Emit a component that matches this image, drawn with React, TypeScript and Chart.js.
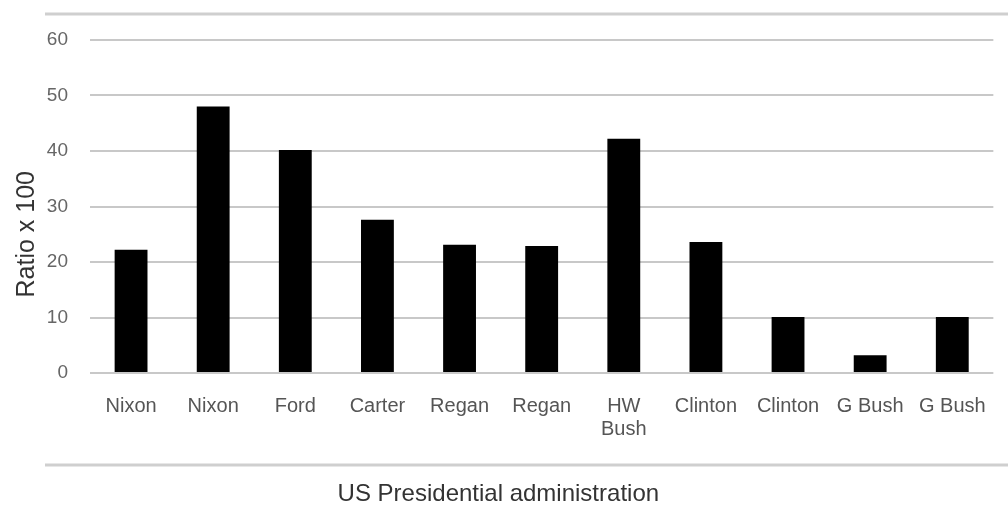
import React, { useEffect, useRef } from "react";
import { Chart, registerables } from "chart.js";

Chart.register(...registerables);

const categories: (string | string[])[] = [
  "Nixon",
  "Nixon",
  "Ford",
  "Carter",
  "Regan",
  "Regan",
  ["HW", "Bush"],
  "Clinton",
  "Clinton",
  "G Bush",
  "G Bush",
];
const ratioValues = [22.2, 48, 40.2, 27.6, 23.1, 22.9, 42.2, 23.6, 10.1, 3.2, 10.1];
const yTicks = { min: 0, max: 60, step: 10 };
const xTitle = "US Presidential administration";
const yTitle = "Ratio x 100";

const FONT = "'Liberation Sans', Arial, Helvetica, sans-serif";

const framePlugin = {
  id: "frameLines",
  beforeDraw(chart: any) {
    const { ctx, chartArea } = chart;
    ctx.save();
    ctx.strokeStyle = "#cfcfcf";
    ctx.lineWidth = 3;
    const left = chartArea.left - 45;
    const right = chart.width;
    [chartArea.top - 26, chartArea.bottom + 92].forEach((y: number) => {
      ctx.beginPath();
      ctx.moveTo(left, y);
      ctx.lineTo(right, y);
      ctx.stroke();
    });
    ctx.restore();
  },
};

export default function App() {
  const canvasRef = useRef<HTMLCanvasElement | null>(null);

  useEffect(() => {
    if (!canvasRef.current) return;
    const chart = new Chart(canvasRef.current, {
      type: "bar",
      data: {
        labels: categories,
        datasets: [
          {
            label: yTitle,
            data: ratioValues,
            backgroundColor: "#000000",
            borderWidth: 0,
            barPercentage: 0.4,
            categoryPercentage: 1,
          },
        ],
      },
      options: {
        animation: false,
        responsive: false,
        devicePixelRatio: 1,
        layout: { padding: { top: 40, right: 8, left: 0, bottom: 0 } },
        plugins: {
          legend: { display: false },
          tooltip: { enabled: false },
        },
        scales: {
          x: {
            grid: { display: false, drawTicks: false },
            border: { display: false },
            ticks: {
              color: "#555555",
              padding: 22,
              maxRotation: 0,
              autoSkip: false,
              font: { family: FONT, size: 20, lineHeight: 1.15 },
            },
            title: {
              display: true,
              text: xTitle + "\u00A0".repeat(13),
              color: "#333333",
              font: { family: FONT, size: 24, lineHeight: 1.2 },
              padding: { top: 0, bottom: 1 },
            },
            afterFit(scale: any) {
              scale.height = 137;
            },
          },
          y: {
            min: yTicks.min,
            max: yTicks.max,
            grid: { color: "#c8c8c8", lineWidth: 2, drawTicks: false },
            border: { display: false },
            ticks: {
              stepSize: yTicks.step,
              color: "#666666",
              padding: 22,
              font: { family: FONT, size: 19 },
            },
            title: {
              display: true,
              text: yTitle + "\u00A0".repeat(8),
              color: "#333333",
              font: { family: FONT, size: 25, lineHeight: 1.2 },
              padding: { top: 12, bottom: 0 },
            },
            afterFit(scale: any) {
              scale.width = 90;
            },
          },
        },
      },
      plugins: [framePlugin],
    });
    return () => chart.destroy();
  }, []);

  return (
    <div
      style={{
        position: "absolute",
        left: 0,
        top: 0,
        width: 1008,
        height: 510,
        background: "#ffffff",
      }}
    >
      <canvas ref={canvasRef} width={1008} height={510} />
    </div>
  );
}
